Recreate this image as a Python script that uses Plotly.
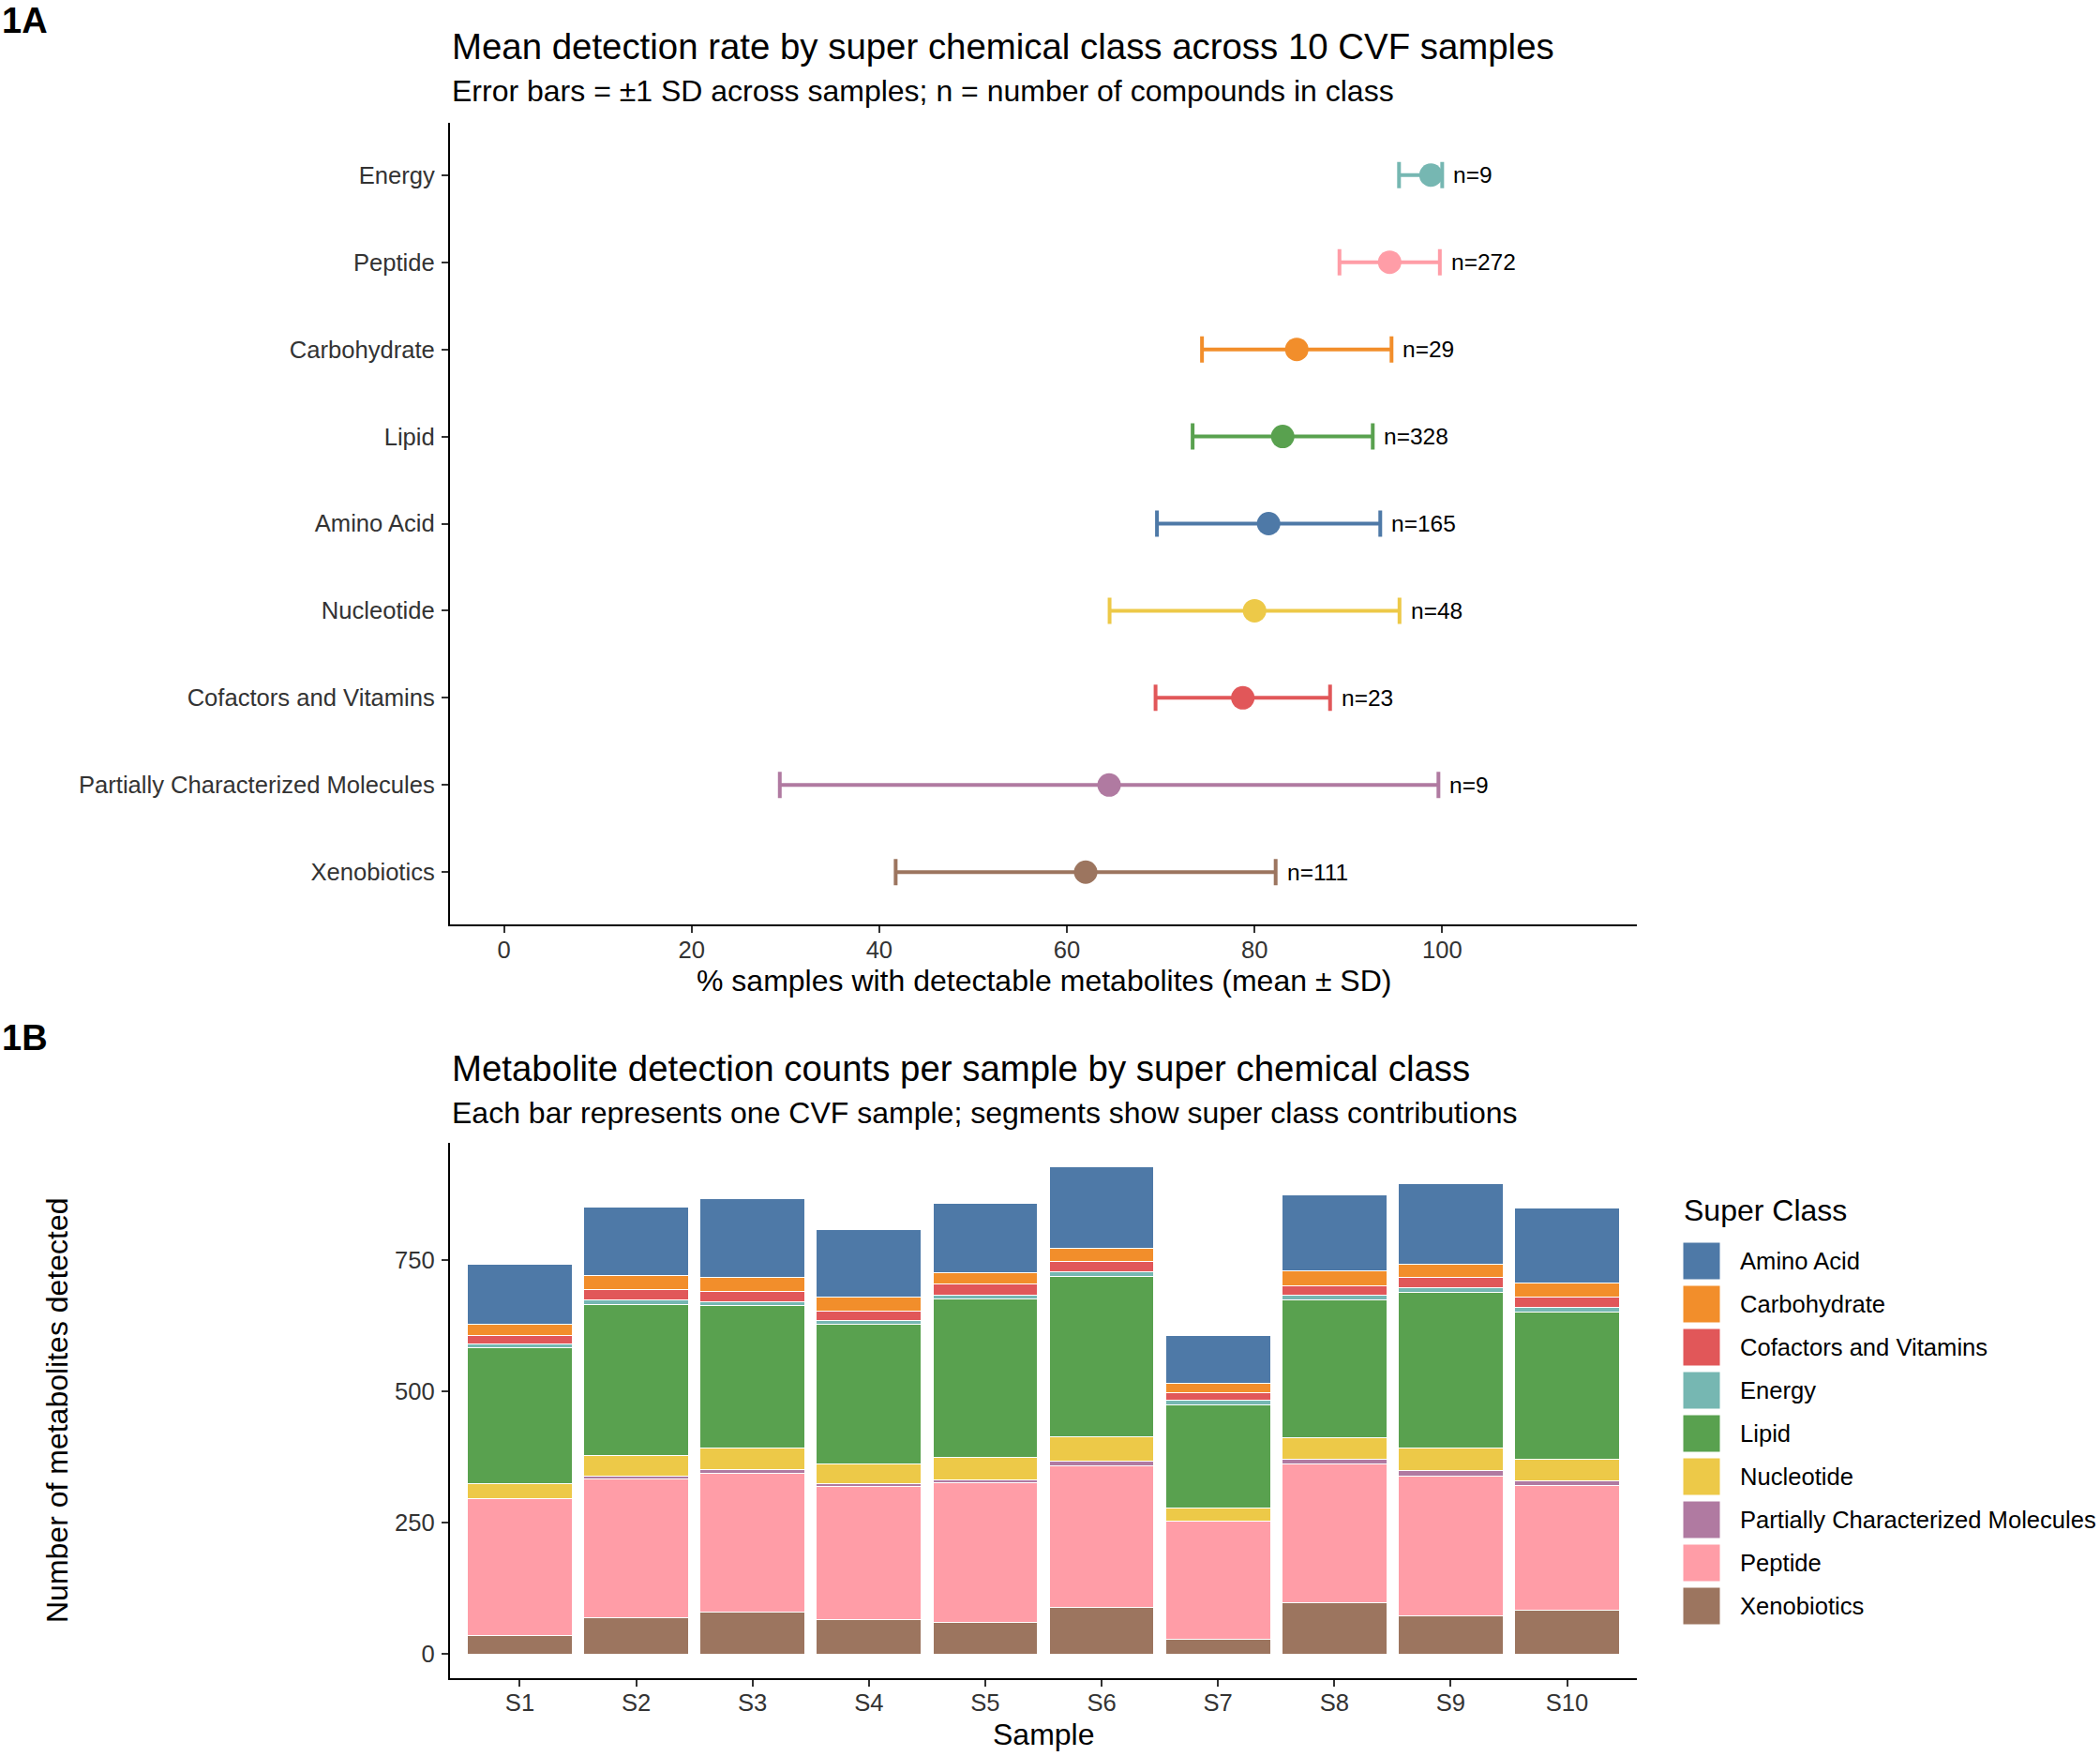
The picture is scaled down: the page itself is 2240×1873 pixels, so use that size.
import plotly.graph_objects as go

FONT = "Liberation Sans, Arial, sans-serif"
W, H = 2240, 1873

# ---------------- Panel A data ----------------
classes_a = ["Energy", "Peptide", "Carbohydrate", "Lipid", "Amino Acid", "Nucleotide",
             "Cofactors and Vitamins", "Partially Characterized Molecules", "Xenobiotics"]
mean_pct = [98.8, 94.4, 84.5, 83.0, 81.5, 80.0, 78.75, 64.5, 62.0]
sd_pct = [3.4, 5.35, 10.1, 9.6, 11.9, 15.45, 9.3, 35.1, 20.25]
n_compounds = [9, 272, 29, 328, 165, 48, 23, 9, 111]

# ---------------- Panel B data ----------------
samples = ["S1", "S2", "S3", "S4", "S5", "S6", "S7", "S8", "S9", "S10"]
amino_acid = [114, 132, 150, 129, 132, 154, 91, 144, 152, 144]
carbohydrate = [21, 25, 27, 27, 23, 26, 18, 28, 25, 26]
cofactors_vitamins = [16, 20, 20, 17, 20, 19, 15, 18, 21, 20]
energy = [8, 9, 8, 8, 8, 9, 8, 9, 9, 8]
lipid = [259, 287, 270, 266, 301, 305, 196, 262, 295, 281]
nucleotide = [28, 40, 42, 37, 43, 47, 25, 42, 44, 41]
partially_characterized = [0, 5, 6, 5, 5, 9, 0, 9, 9, 8]
peptide = [261, 264, 264, 253, 266, 268, 225, 264, 266, 238]
xenobiotics = [34, 69, 80, 66, 60, 89, 28, 97, 73, 83]

legend_classes = ["Amino Acid", "Carbohydrate", "Cofactors and Vitamins", "Energy", "Lipid",
                  "Nucleotide", "Partially Characterized Molecules", "Peptide", "Xenobiotics"]
class_colors = ["#4E79A7", "#F28E2B", "#E15759", "#76B7B2", "#59A14F",
                "#EDC948", "#B07AA1", "#FF9DA7", "#9C755F"]
color_of = dict(zip(legend_classes, class_colors))

series_b = {
    "Amino Acid": amino_acid,
    "Carbohydrate": carbohydrate,
    "Cofactors and Vitamins": cofactors_vitamins,
    "Energy": energy,
    "Lipid": lipid,
    "Nucleotide": nucleotide,
    "Partially Characterized Molecules": partially_characterized,
    "Peptide": peptide,
    "Xenobiotics": xenobiotics,
}
stack_order = list(reversed(legend_classes))  # bottom to top


def px(x):
    return x / W


def py(y):
    return 1 - y / H


fig = go.Figure()

# ---------------- Panel A traces ----------------
annotations = []
for cls, m, s, n in zip(classes_a, mean_pct, sd_pct, n_compounds):
    lo = max(m - s, 0)
    hi = min(m + s, 100)
    fig.add_trace(go.Scatter(
        x=[m], y=[cls], mode="markers",
        marker=dict(size=25, color=color_of[cls]),
        error_x=dict(type="data", symmetric=False, array=[hi - m], arrayminus=[m - lo],
                     color=color_of[cls], thickness=4, width=14),
        xaxis="x", yaxis="y", showlegend=False, cliponaxis=False,
    ))
    annotations.append(dict(
        x=hi + 1, y=cls, xref="x", yref="y", text=f"n={n}", showarrow=False,
        xanchor="left", yanchor="middle", font=dict(size=24.5, color="black", family=FONT),
    ))

# ---------------- Panel B traces ----------------
for cls in stack_order:
    fig.add_trace(go.Bar(
        x=samples, y=series_b[cls], name=cls, width=0.9,
        marker=dict(color=color_of[cls], line=dict(color="white", width=1)),
        xaxis="x2", yaxis="y2", showlegend=False,
    ))

totals = [sum(v) for v in zip(*series_b.values())]
ymax = max(totals)
pad = 0.05 * ymax

axis_common = dict(
    showline=True, linecolor="black", linewidth=2.2, showgrid=False, zeroline=False,
    ticks="outside", ticklen=7, tickwidth=2, tickcolor="#333333",
    tickfont=dict(size=25.6, color="#333333", family=FONT),
)

fig.update_layout(
    width=W, height=H, margin=dict(l=0, r=0, t=0, b=0),
    paper_bgcolor="white", plot_bgcolor="white",
    font=dict(family=FONT, color="black"),
    barmode="stack",
    xaxis=dict(domain=[px(480), px(1746)], range=[-5.75, 120.75],
               tickvals=[0, 20, 40, 60, 80, 100], anchor="y",
               ticklabelstandoff=-4, **axis_common),
    yaxis=dict(domain=[py(986), py(131)], type="category",
               categoryorder="array", categoryarray=classes_a[::-1],
               range=[-0.6, len(classes_a) - 0.4], anchor="x",
               ticklabelstandoff=2, **axis_common),
    xaxis2=dict(domain=[px(480), px(1746)], type="category",
                categoryorder="array", categoryarray=samples,
                range=[-0.6, len(samples) - 0.4], anchor="y2",
                ticklabelstandoff=-5, **axis_common),
    yaxis2=dict(domain=[py(1790), py(1219)], range=[-pad, ymax + pad],
                tickvals=[0, 250, 500, 750], anchor="x2",
                ticklabelstandoff=2, **axis_common),
)

# ---------------- Titles & labels ----------------
def txt(x, y, text, size, anchor="left", bold=False, angle=0, color="black"):
    return dict(x=px(x), y=py(y), xref="paper", yref="paper", text=f"<b>{text}</b>" if bold else text,
                showarrow=False, xanchor=anchor, yanchor="middle", textangle=angle,
                font=dict(size=size, color=color, family=FONT))


annotations += [
    txt(0, 22, "1A", 38, bold=True),
    txt(480, 49, "Mean detection rate by super chemical class across 10 CVF samples", 38.4),
    txt(480, 97, "Error bars = ±1 SD across samples; n = number of compounds in class", 32),
    txt(1113, 1046, "% samples with detectable metabolites (mean ± SD)", 32, anchor="center"),
    txt(0, 1107, "1B", 38, bold=True),
    txt(480, 1139, "Metabolite detection counts per sample by super chemical class", 38.4),
    txt(480, 1187, "Each bar represents one CVF sample; segments show super class contributions", 32),
    txt(1113, 1850, "Sample", 32, anchor="center"),
    txt(61, 1504, "Number of metabolites detected", 32, anchor="center", angle=-90),
    txt(1794, 1291, "Super Class", 32),
]

# ---------------- Legend (manual, ggplot-style keys) ----------------
shapes = []
key_top0 = 1325
key_step = 46
key_size = 40
for i, cls in enumerate(legend_classes):
    top = key_top0 + i * key_step
    shapes.append(dict(type="rect", xref="paper", yref="paper",
                       x0=px(1795), x1=px(1795 + key_size), y0=py(top + key_size), y1=py(top),
                       fillcolor=color_of[cls], line=dict(color="white", width=1)))
    annotations.append(txt(1854, top + key_size / 2, cls, 25.6))

fig.update_layout(annotations=annotations, shapes=shapes)

fig.write_html("out.html")
